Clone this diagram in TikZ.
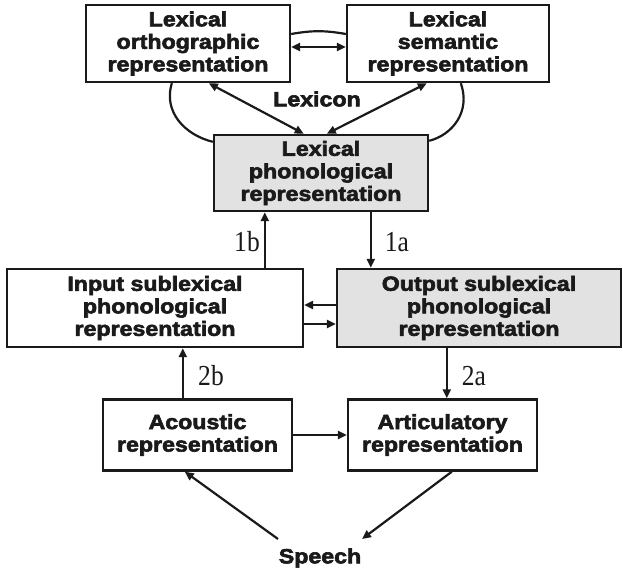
\documentclass[tikz,border=0pt]{standalone}
\usepackage{fontspec}
\usetikzlibrary{calc,arrows.meta}
\newfontfamily\boxfont{Liberation Sans Bold}[FakeStretch=1.13, FakeBold=3]
\newfontfamily\labfont{Liberation Serif}[FakeStretch=0.88]
\definecolor{boxgray}{HTML}{E2E2E2}
\definecolor{ink}{HTML}{1A1A1A}
\begin{document}
\begin{tikzpicture}[x=1pt,y=-1pt,
  line width=2.2pt, color=ink,
  arr/.style={-{Triangle[length=9pt,width=8pt]}},
  biarr/.style={{Triangle[length=9pt,width=8pt]}-{Triangle[length=9pt,width=8pt]}},
  stage/.style={draw=ink, line width=2.4pt, rectangle, align=center, inner sep=0pt,
    font=\boxfont\fontsize{20.5pt}{22.5pt}\selectfont, text=ink},
  shaded/.style={stage, fill=boxgray},
  plain/.style={inner sep=0pt, font=\boxfont\fontsize{20.5pt}{22.5pt}\selectfont, text=ink},
  lab/.style={inner sep=0pt, font=\labfont\fontsize{29pt}{30pt}\selectfont, text=ink}
]
\useasboundingbox (0,0) rectangle (623,570);

\node[stage, minimum width=204pt, minimum height=77pt] (ortho) at (188,43.5) {Lexical\\orthographic\\representation};
\node[stage, minimum width=202pt, minimum height=77pt] (sem) at (448,43.5) {Lexical\\semantic\\representation};
\node[shaded, minimum width=214pt, minimum height=76pt] (phon) at (321,173) {Lexical\\phonological\\representation};
\node[stage, minimum width=296pt, minimum height=78pt] (input) at (155,308) {Input sublexical\\phonological\\representation};
\node[shaded, minimum width=284pt, minimum height=78pt] (output) at (479,308) {Output sublexical\\phonological\\representation};
\node[stage, minimum width=189pt, minimum height=71pt] (acoustic) at (197.5,435) {Acoustic\\representation};
\node[stage, minimum width=189pt, minimum height=71pt] (artic) at (442.5,435) {Articulatory\\representation};
\node[plain] (lexicon) at (317,99) {Lexicon};
\node[plain] (speech) at (320,558) {Speech};

\node[lab] (l1b) at (247,242) {1b};
\node[lab] (l1a) at (397,242) {1a};
\node[lab] (l2b) at (211,376) {2b};
\node[lab] (l2a) at (474,376) {2a};

% lexicon enclosure
\draw ($(ortho.east)+(0,-9.5)$) to[bend left=10] ($(sem.west)+(0,-9.5)$);
\draw ($(ortho.south west)+(87,0)$) .. controls (163,112) and (185,135) .. ($(phon.north west)+(0,8)$);
\draw ($(sem.south west)+(115,0)$) .. controls (471,112) and (452,135) .. ($(phon.north east)+(0,7)$);

% lexicon arrows
\draw[biarr] ($(ortho.east)+(0,3.5)$) -- ($(sem.west)+(0,3.5)$);
\draw[biarr] ($(ortho.south west)+(124,0)$) -- ($(phon.north west)+(91,0)$);
\draw[biarr] ($(sem.south west)+(81,0)$) -- ($(phon.north west)+(114,0)$);

% 1a / 1b
\coordinate (b1) at ($(input.north west)+(259,0)$);
\draw[arr] (b1) -- (b1 |- phon.south);
\coordinate (a1) at ($(phon.south west)+(158,0)$);
\draw[arr] (a1) -- (a1 |- output.north);

% between sublexical
\coordinate (u1) at ($(output.west)+(0,-3)$);
\draw[arr] (u1) -- (u1 -| input.east);
\coordinate (d1) at ($(input.east)+(0,16)$);
\draw[arr] (d1) -- (d1 -| output.west);

% 2a / 2b
\coordinate (b2) at ($(acoustic.north west)+(81,0)$);
\draw[arr] (b2) -- (b2 |- input.south);
\coordinate (a2) at ($(output.south west)+(111,0)$);
\draw[arr] (a2) -- (a2 |- artic.north);

\draw[arr] (acoustic.east) -- (artic.west);

% speech
\coordinate (sL) at (278,539);
\coordinate (sR) at (362,539);
\draw[arr] (sL) -- ($(acoustic.south west)+(83,0)$);
\draw[arr] ($(artic.south west)+(105,0)$) -- (sR);
\end{tikzpicture}
\end{document}
